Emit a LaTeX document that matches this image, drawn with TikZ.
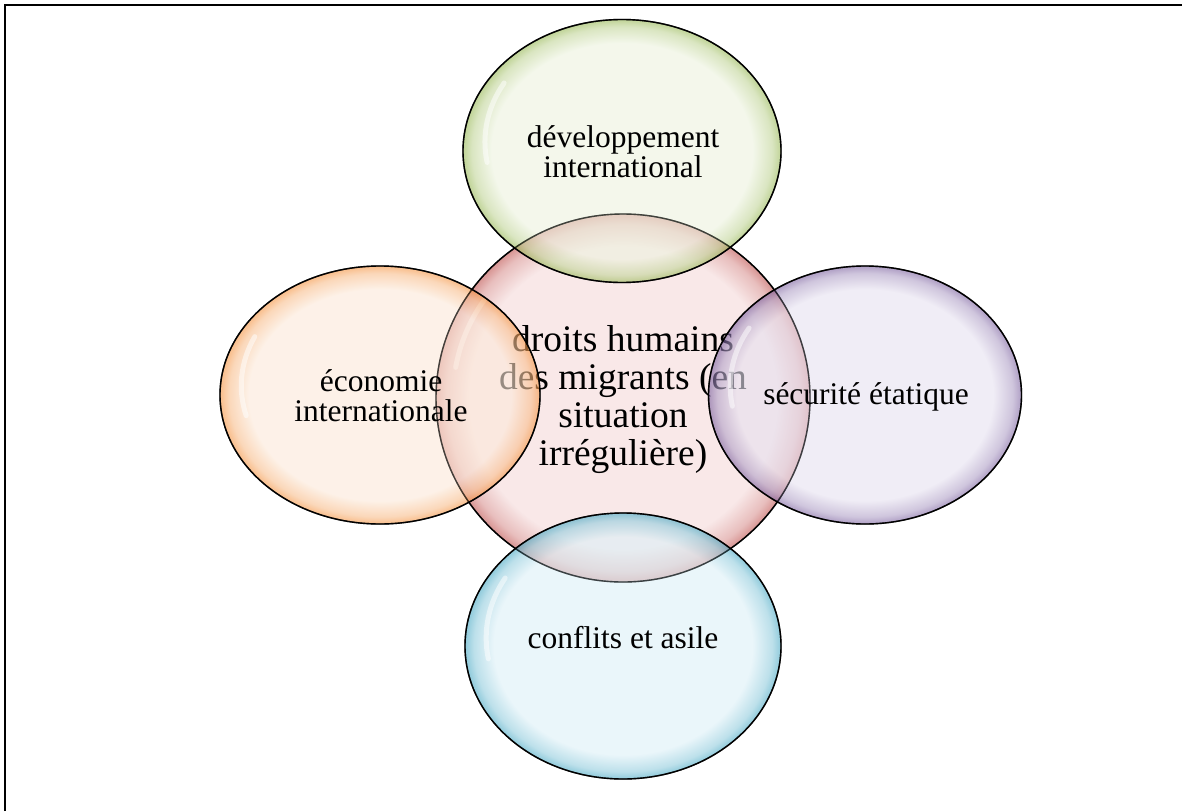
\documentclass[tikz,border=0pt]{standalone}
\usepackage{fontspec}
\setmainfont{Liberation Serif}
\usetikzlibrary{shapes.geometric,calc}
\pgfdeclareradialshading[bubin,bubout]{bubble}{\pgfpoint{0bp}{0bp}}{color(0bp)=(bubin); color(20.5bp)=(bubin); color(23.6bp)=(bubout!50!bubin); color(25bp)=(bubout); color(50bp)=(bubout)}
\definecolor{gin}{RGB}{237,243,223}\definecolor{gout}{RGB}{150,183,82}
\definecolor{rin}{RGB}{245,218,218}\definecolor{rout}{RGB}{190,78,75}
\definecolor{oin}{RGB}{252,233,217}\definecolor{oout}{RGB}{245,146,62}
\definecolor{pin}{RGB}{230,225,240}\definecolor{pout}{RGB}{122,95,158}
\definecolor{bin}{RGB}{220,240,247}\definecolor{bout}{RGB}{70,168,196}
\tikzset{
  bubble/.style={ellipse, draw=black, line width=1.4pt, shading=bubble,
    fill opacity=0.6, inner sep=0pt},
  rimline/.style={draw=black, line width=1.4pt, draw opacity=0.55},
  lbl/.style={align=center, font=\fontsize{31.5}{30}\selectfont, inner sep=0pt},
  biglbl/.style={align=center, font=\fontsize{37.5}{38}\selectfont, inner sep=0pt},
  gloss/.style={white, line width=5pt, line cap=round, opacity=0.5}
}
\begin{document}
\begin{tikzpicture}[x=1pt,y=-1pt]
\useasboundingbox (0,0) rectangle (1182,811);
\fill[white] (0,0) rectangle (1182,811);
\draw[line width=2pt] (5,811) -- (5,5) -- (1190,5);
% centre
\colorlet{bubin}{rin}\colorlet{bubout}{rout}
\node[bubble, minimum width=374pt, minimum height=368pt] (centre) at (623,398) {};
\draw[gloss] ($(centre.center)!0.91!(centre.145)$) arc[start angle=145, end angle=170, x radius=170pt, y radius=167pt];
\node[biglbl] (centre-t) at (623,400) {droits humains\\des migrants (en\\situation\\irrégulière)};
% left
\colorlet{bubin}{oin}\colorlet{bubout}{oout}
\node[bubble, minimum width=320pt, minimum height=258pt] (eco) at (380,395) {};
\draw[gloss] ($(eco.center)!0.9!(eco.155)$) arc[start angle=155, end angle=195, x radius=144pt, y radius=116pt];
\node[lbl] (eco-t) at (381,396) {économie\\internationale};
% right
\colorlet{bubin}{pin}\colorlet{bubout}{pout}
\node[bubble, minimum width=313pt, minimum height=258pt] (secu) at (865,395) {};
\draw[gloss] ($(secu.center)!0.9!(secu.150)$) arc[start angle=150, end angle=190, x radius=141pt, y radius=116pt];
\node[lbl] (secu-t) at (866,397) {sécurité étatique};
% top
\colorlet{bubin}{gin}\colorlet{bubout}{gout}
\node[bubble, minimum width=318pt, minimum height=263pt] (dev) at (622,151) {};
\draw[gloss] ($(dev.center)!0.9!(dev.150)$) arc[start angle=150, end angle=190, x radius=143pt, y radius=118pt];
\node[lbl] (dev-t) at (623,152) {développement\\international};
% bottom
\colorlet{bubin}{bin}\colorlet{bubout}{bout}
\node[bubble, minimum width=316pt, minimum height=266pt] (conf) at (623,646) {};
\draw[gloss] ($(conf.center)!0.9!(conf.150)$) arc[start angle=150, end angle=190, x radius=142pt, y radius=120pt];
\node[lbl] (conf-t) at (623,638) {conflits et asile};
% outlines seen through the bubbles
\path[rimline] (centre.center) ellipse [x radius=187pt, y radius=184pt];
\path[rimline] (eco.center) ellipse [x radius=160pt, y radius=129pt];
\path[rimline] (secu.center) ellipse [x radius=156.5pt, y radius=129pt];
\path[rimline] (dev.center) ellipse [x radius=159pt, y radius=131.5pt];
\path[rimline] (conf.center) ellipse [x radius=158pt, y radius=133pt];
\end{tikzpicture}
\end{document}
